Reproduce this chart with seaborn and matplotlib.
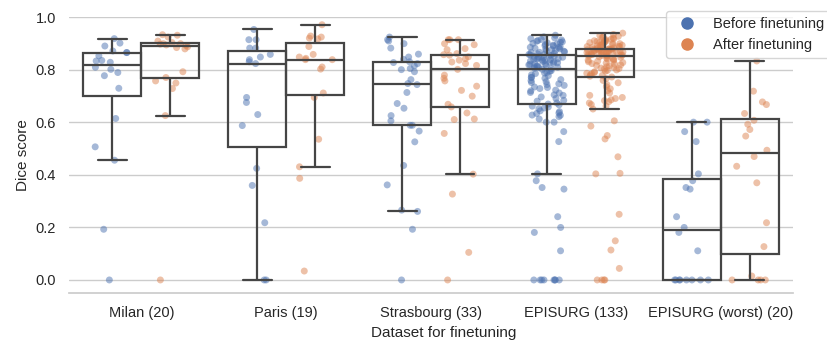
import matplotlib
matplotlib.use("Agg")
import matplotlib.pyplot as plt
from matplotlib.lines import Line2D
import numpy as np
import pandas as pd
import seaborn as sns

# Dice scores per test dataset
datasets = ["Milan (20)", "Paris (19)", "Strasbourg (33)", "EPISURG (133)", "EPISURG (worst) (20)"]
stages = ["Before finetuning", "After finetuning"]

milan_before = [0.919, 0.902, 0.891, 0.872, 0.866, 0.866, 0.854, 0.836, 0.834, 0.829,
                0.810, 0.802, 0.790, 0.778, 0.730, 0.615, 0.507, 0.456, 0.193, 0.0]
milan_after = [0.934, 0.932, 0.925, 0.910, 0.904, 0.900, 0.900, 0.898, 0.895, 0.893,
               0.888, 0.885, 0.880, 0.793, 0.771, 0.758, 0.750, 0.729, 0.626, 0.0]

paris_before = [0.954, 0.915, 0.915, 0.883, 0.883, 0.859, 0.849, 0.839, 0.831, 0.824,
                0.695, 0.676, 0.630, 0.588, 0.425, 0.360, 0.218, 0.0, 0.0]
paris_after = [0.972, 0.929, 0.925, 0.921, 0.918, 0.889, 0.859, 0.849, 0.844, 0.839,
               0.839, 0.811, 0.803, 0.712, 0.695, 0.536, 0.431, 0.387, 0.034]

strasbourg_before = [0.925, 0.915, 0.910, 0.900, 0.883, 0.860, 0.849, 0.840, 0.831, 0.828,
                     0.824, 0.815, 0.805, 0.801, 0.793, 0.763, 0.748, 0.744, 0.714, 0.672,
                     0.654, 0.626, 0.606, 0.589, 0.589, 0.567, 0.526, 0.436, 0.362, 0.266,
                     0.261, 0.193, 0.0]
strasbourg_after = [0.915, 0.915, 0.915, 0.900, 0.896, 0.881, 0.877, 0.862, 0.858, 0.856,
                    0.850, 0.843, 0.837, 0.830, 0.824, 0.817, 0.802, 0.780, 0.768, 0.758,
                    0.738, 0.722, 0.700, 0.669, 0.659, 0.636, 0.613, 0.611, 0.558, 0.403,
                    0.327, 0.105, 0.0]

episurg_before = [0, 0, 0, 0, 0, 0, 0, 0, 0.111, 0.181, 0.200, 0.241, 0.346, 0.352, 0.378,
                  0.404, 0.527, 0.565, 0.601, 0.601,
                  0.613, 0.622, 0.627, 0.628, 0.634, 0.636, 0.641, 0.644, 0.652, 0.655,
                  0.659, 0.662, 0.667, 0.670,
                  0.674, 0.681, 0.684, 0.691, 0.697, 0.703, 0.705, 0.712, 0.714, 0.720,
                  0.723, 0.729, 0.733, 0.735, 0.741, 0.744, 0.747, 0.752, 0.755, 0.759,
                  0.763, 0.768, 0.771, 0.772, 0.778, 0.781, 0.786, 0.788, 0.790, 0.795,
                  0.797, 0.802, 0.805,
                  0.806, 0.809, 0.810, 0.812, 0.814, 0.815, 0.816, 0.819, 0.821, 0.822,
                  0.824, 0.826, 0.827, 0.829, 0.831, 0.832, 0.834, 0.836, 0.837, 0.839,
                  0.840, 0.842, 0.843, 0.845, 0.846, 0.848, 0.849, 0.851, 0.852, 0.854,
                  0.855, 0.857, 0.858,
                  0.859, 0.861, 0.863, 0.866, 0.867, 0.869, 0.871, 0.873, 0.874, 0.877,
                  0.879, 0.880, 0.883, 0.885, 0.886, 0.889, 0.891, 0.893, 0.894, 0.897,
                  0.899, 0.901, 0.903, 0.905, 0.907, 0.909, 0.912, 0.914, 0.916, 0.919,
                  0.922, 0.926, 0.932]
episurg_after = [0, 0, 0, 0, 0.044, 0.114, 0.149, 0.250, 0.404, 0.406, 0.469, 0.537, 0.550,
                 0.586, 0.606,
                 0.651, 0.662, 0.668, 0.674, 0.679, 0.683, 0.686, 0.691, 0.695, 0.703,
                 0.712, 0.721, 0.728, 0.736, 0.744, 0.751, 0.760, 0.767, 0.773,
                 0.776, 0.779, 0.782, 0.785, 0.787, 0.790, 0.793, 0.795, 0.798, 0.800,
                 0.803, 0.805, 0.807, 0.810, 0.812, 0.815, 0.817, 0.819, 0.822, 0.824,
                 0.826, 0.828, 0.831, 0.833, 0.835, 0.837, 0.839, 0.841, 0.843, 0.845,
                 0.848, 0.850, 0.852,
                 0.853, 0.854, 0.855, 0.856, 0.857, 0.858, 0.859, 0.860, 0.861, 0.862,
                 0.863, 0.864, 0.865, 0.866, 0.867, 0.868, 0.869, 0.870, 0.871, 0.871,
                 0.872, 0.873, 0.874, 0.875, 0.875, 0.876, 0.877, 0.878, 0.878, 0.879,
                 0.880, 0.880, 0.881,
                 0.882, 0.884, 0.885, 0.886, 0.888, 0.889, 0.890, 0.892, 0.893, 0.894,
                 0.896, 0.897, 0.898, 0.900, 0.901, 0.903, 0.904, 0.905, 0.907, 0.908,
                 0.910, 0.911, 0.913, 0.915, 0.917, 0.919, 0.921, 0.923, 0.925, 0.928,
                 0.931, 0.935, 0.940]

worst_before = [0.601, 0.601, 0.565, 0.527, 0.404, 0.378, 0.352, 0.346, 0.241, 0.200,
                0.181, 0.111, 0, 0, 0, 0, 0, 0, 0, 0]
worst_after = [0.834, 0.719, 0.678, 0.668, 0.634, 0.608, 0.593, 0.573, 0.548, 0.494,
               0.470, 0.433, 0.370, 0.218, 0.127, 0.015, 0, 0, 0, 0]

befores = [milan_before, paris_before, strasbourg_before, episurg_before, worst_before]
afters = [milan_after, paris_after, strasbourg_after, episurg_after, worst_after]

# long format table for seaborn
rows = []
for name, before, after in zip(datasets, befores, afters):
    for v in before:
        rows.append({'Dataset': name, 'Dice score': v, 'Stage': stages[0]})
    for v in after:
        rows.append({'Dataset': name, 'Dice score': v, 'Stage': stages[1]})
df = pd.DataFrame(rows)

sns.set_theme(style='whitegrid')
plt.rcParams['font.family'] = ['Liberation Sans', 'DejaVu Sans']
plt.rcParams['xtick.labelsize'] = 10.5
plt.rcParams['ytick.labelsize'] = 10.5
plt.rcParams['axes.labelsize'] = 11

palette = sns.color_palette('deep', 2)

fig, ax = plt.subplots(figsize=(8.27, 3.44), dpi=100)
fig.subplots_adjust(left=0.0834, right=0.959, bottom=0.148, top=0.951)

np.random.seed(3)
sns.stripplot(data=df, x='Dataset', y='Dice score', hue='Stage', order=datasets,
              hue_order=stages, dodge=True, jitter=0.25, alpha=0.5, size=5,
              linewidth=0, palette=palette, legend=False, ax=ax, zorder=1)
sns.boxplot(data=df, x='Dataset', y='Dice score', hue='Stage', order=datasets,
            hue_order=stages, dodge=True, showfliers=False, palette=palette,
            boxprops=dict(facecolor='none'), linecolor='0.27', linewidth=1.6,
            legend=False, ax=ax)

ax.set_ylim(-0.05, 1.002)
ax.set_yticks([0.0, 0.2, 0.4, 0.6, 0.8, 1.0])
ax.set_xlabel('Dataset for finetuning')
ax.set_ylabel('Dice score')
ax.xaxis.set_label_coords(0.518, -0.12)
sns.despine(ax=ax, left=True)

# legend sits against the right edge, over the last group
handles = [Line2D([], [], marker='o', linestyle='', markersize=8, color=c) for c in palette]
leg = ax.legend(handles, stages, loc='upper right', bbox_to_anchor=(1.004, 0.967),
                bbox_transform=fig.transFigure, borderaxespad=0, fontsize=10.5,
                borderpad=0.42, labelspacing=0.45, frameon=True)
leg.set_zorder(5)

plt.savefig('out.png', dpi=100)
